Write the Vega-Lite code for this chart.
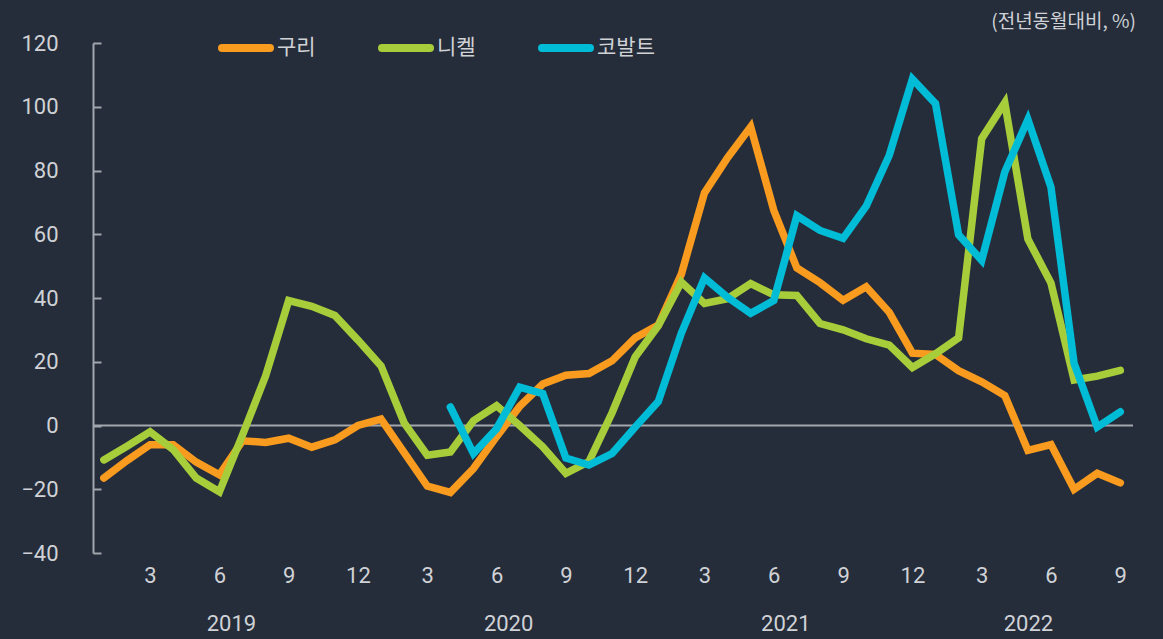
{
  "$schema": "https://vega.github.io/schema/vega-lite/v6.json",
  "width": 1040,
  "height": 510,
  "autosize": {"type": "none"},
  "padding": {"left": 93, "top": 43, "right": 30, "bottom": 86},
  "background": "#252d3b",
  "config": {
    "font": "Roboto, Noto Sans CJK KR",
    "view": {"stroke": null},
    "axis": {"grid": false, "title": null},
    "axisY": {
      "domainColor": "#a3a7ad",
      "domainWidth": 2,
      "tickColor": "#a3a7ad",
      "tickWidth": 2,
      "tickSize": -8,
      "labelPadding": 43,
      "labelFontSize": 22,
      "labelColor": "#d0d2d6"
    },
    "axisX": {
      "domain": false,
      "ticks": false,
      "labelPadding": 12,
      "labelFontSize": 22,
      "labelColor": "#d0d2d6",
      "labelOverlap": false,
      "labelFlush": false,
      "labelLineHeight": 48
    }
  },
  "title": {
    "text": "(전년동월대비, %)",
    "anchor": "end",
    "frame": "group",
    "orient": "top",
    "offset": 0,
    "dx": 3,
    "dy": 12,
    "fontSize": 19,
    "fontWeight": "normal",
    "color": "#d0d2d6",
    "font": "Noto Sans CJK KR"
  },
  "layer": [
    {
      "data": {"values": [{"yoy": 0}]},
      "mark": {"type": "rule", "color": "#a3a7ad", "strokeWidth": 2},
      "encoding": {
        "y": {"field": "yoy", "type": "quantitative", "scale": {"domain": [-40, 120], "nice": false, "zero": false}, "axis": {"values": [-40, -20, 0, 20, 40, 60, 80, 100, 120]}}
      }
    },
    {
      "data": {"values": [
        {"t": 0, "metal": "구리", "yoy": -16.5},
        {"t": 1, "metal": "구리", "yoy": -11},
        {"t": 2, "metal": "구리", "yoy": -6},
        {"t": 3, "metal": "구리", "yoy": -6},
        {"t": 4, "metal": "구리", "yoy": -11.5},
        {"t": 5, "metal": "구리", "yoy": -15.5},
        {"t": 6, "metal": "구리", "yoy": -4.8},
        {"t": 7, "metal": "구리", "yoy": -5.3},
        {"t": 8, "metal": "구리", "yoy": -4},
        {"t": 9, "metal": "구리", "yoy": -6.8},
        {"t": 10, "metal": "구리", "yoy": -4.5},
        {"t": 11, "metal": "구리", "yoy": 0},
        {"t": 12, "metal": "구리", "yoy": 2},
        {"t": 13, "metal": "구리", "yoy": -8.5},
        {"t": 14, "metal": "구리", "yoy": -19},
        {"t": 15, "metal": "구리", "yoy": -21},
        {"t": 16, "metal": "구리", "yoy": -13.5},
        {"t": 17, "metal": "구리", "yoy": -3.5},
        {"t": 18, "metal": "구리", "yoy": 6},
        {"t": 19, "metal": "구리", "yoy": 13},
        {"t": 20, "metal": "구리", "yoy": 15.8},
        {"t": 21, "metal": "구리", "yoy": 16.3},
        {"t": 22, "metal": "구리", "yoy": 20.3},
        {"t": 23, "metal": "구리", "yoy": 27.5},
        {"t": 24, "metal": "구리", "yoy": 31.5},
        {"t": 25, "metal": "구리", "yoy": 47.5},
        {"t": 26, "metal": "구리", "yoy": 73},
        {"t": 27, "metal": "구리", "yoy": 84},
        {"t": 28, "metal": "구리", "yoy": 93.7},
        {"t": 29, "metal": "구리", "yoy": 67.5},
        {"t": 30, "metal": "구리", "yoy": 49.4},
        {"t": 31, "metal": "구리", "yoy": 44.8},
        {"t": 32, "metal": "구리", "yoy": 39.3},
        {"t": 33, "metal": "구리", "yoy": 43.5},
        {"t": 34, "metal": "구리", "yoy": 35.5},
        {"t": 35, "metal": "구리", "yoy": 22.7},
        {"t": 36, "metal": "구리", "yoy": 22.3},
        {"t": 37, "metal": "구리", "yoy": 17.2},
        {"t": 38, "metal": "구리", "yoy": 13.7},
        {"t": 39, "metal": "구리", "yoy": 9.4},
        {"t": 40, "metal": "구리", "yoy": -7.8},
        {"t": 41, "metal": "구리", "yoy": -6},
        {"t": 42, "metal": "구리", "yoy": -20},
        {"t": 43, "metal": "구리", "yoy": -15},
        {"t": 44, "metal": "구리", "yoy": -18},
        {"t": 0, "metal": "니켈", "yoy": -10.8},
        {"t": 1, "metal": "니켈", "yoy": -6.5},
        {"t": 2, "metal": "니켈", "yoy": -2},
        {"t": 3, "metal": "니켈", "yoy": -7.5},
        {"t": 4, "metal": "니켈", "yoy": -16.5},
        {"t": 5, "metal": "니켈", "yoy": -20.8},
        {"t": 6, "metal": "니켈", "yoy": -3},
        {"t": 7, "metal": "니켈", "yoy": 15.5},
        {"t": 8, "metal": "니켈", "yoy": 39.2},
        {"t": 9, "metal": "니켈", "yoy": 37.4},
        {"t": 10, "metal": "니켈", "yoy": 34.5},
        {"t": 11, "metal": "니켈", "yoy": 26.8},
        {"t": 12, "metal": "니켈", "yoy": 18.7},
        {"t": 13, "metal": "니켈", "yoy": 0.8},
        {"t": 14, "metal": "니켈", "yoy": -9.3},
        {"t": 15, "metal": "니켈", "yoy": -8.3},
        {"t": 16, "metal": "니켈", "yoy": 1.5},
        {"t": 17, "metal": "니켈", "yoy": 6.2},
        {"t": 18, "metal": "니켈", "yoy": 0},
        {"t": 19, "metal": "니켈", "yoy": -6.7},
        {"t": 20, "metal": "니켈", "yoy": -15},
        {"t": 21, "metal": "니켈", "yoy": -11.3},
        {"t": 22, "metal": "니켈", "yoy": 4},
        {"t": 23, "metal": "니켈", "yoy": 21.5},
        {"t": 24, "metal": "니켈", "yoy": 31.3},
        {"t": 25, "metal": "니켈", "yoy": 45},
        {"t": 26, "metal": "니켈", "yoy": 38.3},
        {"t": 27, "metal": "니켈", "yoy": 39.8},
        {"t": 28, "metal": "니켈", "yoy": 44.5},
        {"t": 29, "metal": "니켈", "yoy": 41},
        {"t": 30, "metal": "니켈", "yoy": 40.8},
        {"t": 31, "metal": "니켈", "yoy": 32},
        {"t": 32, "metal": "니켈", "yoy": 30},
        {"t": 33, "metal": "니켈", "yoy": 27.2},
        {"t": 34, "metal": "니켈", "yoy": 25.2},
        {"t": 35, "metal": "니켈", "yoy": 18.2},
        {"t": 36, "metal": "니켈", "yoy": 22.5},
        {"t": 37, "metal": "니켈", "yoy": 27.5},
        {"t": 38, "metal": "니켈", "yoy": 90},
        {"t": 39, "metal": "니켈", "yoy": 101.3},
        {"t": 40, "metal": "니켈", "yoy": 58.5},
        {"t": 41, "metal": "니켈", "yoy": 44.7},
        {"t": 42, "metal": "니켈", "yoy": 14.3},
        {"t": 43, "metal": "니켈", "yoy": 15.5},
        {"t": 44, "metal": "니켈", "yoy": 17.3},
        {"t": 15, "metal": "코발트", "yoy": 5.8},
        {"t": 16, "metal": "코발트", "yoy": -8.8},
        {"t": 17, "metal": "코발트", "yoy": -1},
        {"t": 18, "metal": "코발트", "yoy": 12},
        {"t": 19, "metal": "코발트", "yoy": 10},
        {"t": 20, "metal": "코발트", "yoy": -10.2},
        {"t": 21, "metal": "코발트", "yoy": -12.4},
        {"t": 22, "metal": "코발트", "yoy": -8.8},
        {"t": 23, "metal": "코발트", "yoy": -0.5},
        {"t": 24, "metal": "코발트", "yoy": 7.5},
        {"t": 25, "metal": "코발트", "yoy": 29},
        {"t": 26, "metal": "코발트", "yoy": 46.3},
        {"t": 27, "metal": "코발트", "yoy": 40.2},
        {"t": 28, "metal": "코발트", "yoy": 35.2},
        {"t": 29, "metal": "코발트", "yoy": 39.2},
        {"t": 30, "metal": "코발트", "yoy": 65.8},
        {"t": 31, "metal": "코발트", "yoy": 61.2},
        {"t": 32, "metal": "코발트", "yoy": 58.7},
        {"t": 33, "metal": "코발트", "yoy": 68.8},
        {"t": 34, "metal": "코발트", "yoy": 84.8},
        {"t": 35, "metal": "코발트", "yoy": 108.7},
        {"t": 36, "metal": "코발트", "yoy": 101},
        {"t": 37, "metal": "코발트", "yoy": 59.8},
        {"t": 38, "metal": "코발트", "yoy": 51.8},
        {"t": 39, "metal": "코발트", "yoy": 79.5},
        {"t": 40, "metal": "코발트", "yoy": 96},
        {"t": 41, "metal": "코발트", "yoy": 74.7},
        {"t": 42, "metal": "코발트", "yoy": 19.5},
        {"t": 43, "metal": "코발트", "yoy": -0.5},
        {"t": 44, "metal": "코발트", "yoy": 4.3}
      ]},
      "mark": {"type": "line", "strokeWidth": 7.5, "strokeCap": "round", "strokeJoin": "miter"},
      "encoding": {
        "x": {
          "field": "t",
          "type": "quantitative",
          "scale": {"domain": [-0.47, 44.55], "nice": false, "zero": false},
          "axis": {
            "values": [2, 5, 5.5, 8, 11, 14, 17, 17.5, 20, 23, 26, 29, 29.5, 32, 35, 38, 40, 41, 44],
            "labelExpr": "datum.value == 5.5 ? ['', '2019'] : datum.value == 17.5 ? ['', '2020'] : datum.value == 29.5 ? ['', '2021'] : datum.value == 40 ? ['', '2022'] : '' + (datum.value % 12 + 1)"
          }
        },
        "y": {"field": "yoy", "type": "quantitative", "scale": {"domain": [-40, 120], "nice": false, "zero": false}, "axis": {"values": [-40, -20, 0, 20, 40, 60, 80, 100, 120]}},
        "color": {
          "field": "metal",
          "type": "nominal",
          "scale": {"domain": ["구리", "니켈", "코발트"], "range": ["#f89b1e", "#a8cd3a", "#00bcd6"]},
          "legend": {
            "orient": "none",
            "legendX": 125,
            "legendY": -23,
            "direction": "horizontal",
            "title": null,
            "padding": 0,
            "symbolType": "stroke",
            "symbolSize": 2304,
            "symbolStrokeWidth": 8,
            "labelFont": "Noto Sans CJK KR",
            "labelFontSize": 21,
            "labelColor": "#d0d2d6",
            "labelOffset": 3,
            "columnPadding": 50,
            "encode": {"symbols": {"update": {"strokeCap": {"value": "round"}}}}
          }
        }
      }
    }
  ]
}
